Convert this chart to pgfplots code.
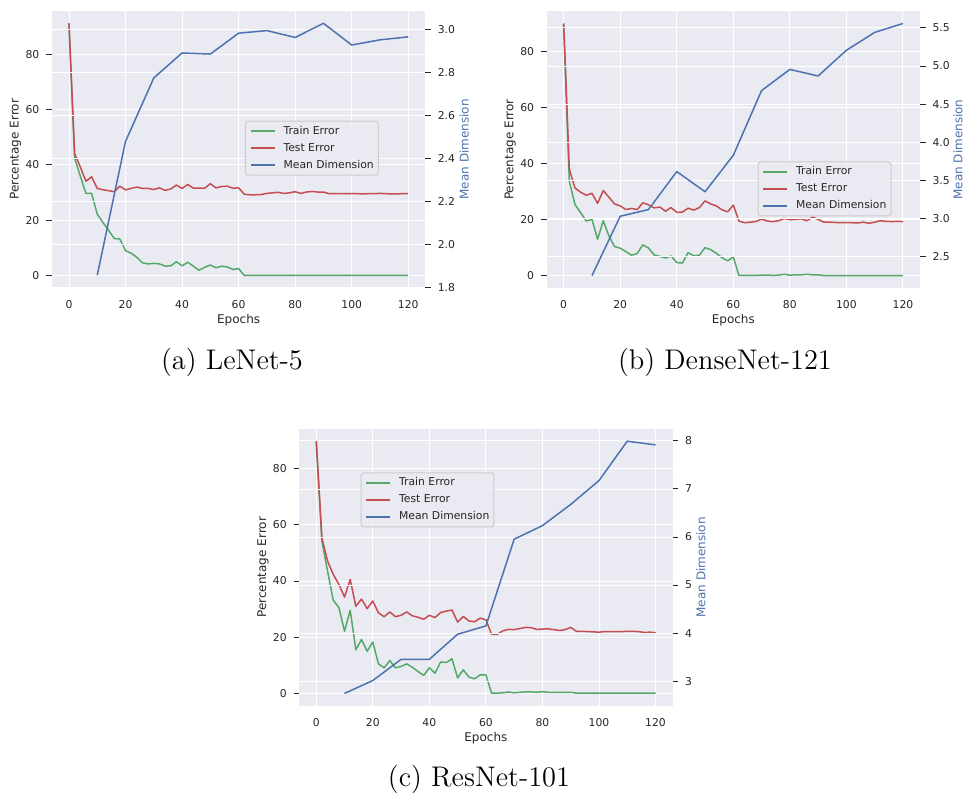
\documentclass[border=0pt]{standalone}
\usepackage{fontspec}
\usepackage{pgfplots}
\usepackage{pgfplotstable}
\pgfplotsset{compat=1.18}

\newfontfamily\dejavu{DejaVu Sans}
\definecolor{bgc}{HTML}{EAEAF2}
\definecolor{trainc}{HTML}{55A868}
\definecolor{testc}{HTML}{C44E52}
\definecolor{dimc}{HTML}{4C72B0}
\definecolor{txtc}{HTML}{262626}
\definecolor{legc}{HTML}{CCCCCC}
\newcommand\tickfont{\dejavu\fontsize{5.4}{6.5}\selectfont}
\newcommand\labfont{\dejavu\fontsize{6}{7}\selectfont}
\newcommand\capfont{\fontsize{14.2}{17}\selectfont}

% LeNet-5
\pgfplotstableread{
ep train test
0 91.0 91.3
2 42.5 44.1
4 36.0 39.3
6 29.7 34.1
8 29.7 35.7
10 22.2 31.5
12 19.2 31.0
14 16.4 30.7
16 13.4 30.3
18 13.2 32.3
20 9.0 31.0
22 8.1 31.5
24 6.6 32.0
26 4.6 31.5
28 4.2 31.5
30 4.4 31.1
32 4.2 31.7
34 3.4 30.8
36 3.5 31.3
38 5.0 32.7
40 3.5 31.5
42 4.8 32.9
44 3.4 31.6
46 1.9 31.6
48 3.0 31.6
50 3.8 33.2
52 2.8 31.7
54 3.4 32.2
56 3.1 32.3
58 2.2 31.6
60 2.5 31.7
62 0.05 29.4
64 0.05 29.2
66 0.05 29.2
68 0.05 29.3
70 0.05 29.7
72 0.05 29.9
74 0.05 30.1
76 0.05 29.7
78 0.05 29.9
80 0.05 30.3
82 0.05 29.7
84 0.05 30.2
86 0.05 30.4
88 0.05 30.2
90 0.05 30.2
92 0.05 29.6
94 0.05 29.6
96 0.05 29.6
98 0.05 29.6
100 0.05 29.6
102 0.05 29.6
104 0.05 29.5
106 0.05 29.6
108 0.05 29.6
110 0.05 29.7
112 0.05 29.6
114 0.05 29.5
116 0.05 29.5
118 0.05 29.6
120 0.05 29.6
}\lenet
\pgfplotstableread{
ep dim
10 1.858
20 2.480
30 2.775
40 2.891
50 2.886
60 2.983
70 2.995
80 2.963
90 3.029
100 2.928
110 2.952
120 2.966
}\lenetdim

% DenseNet-121
\pgfplotstableread{
ep train test
0 90.0 90.0
2 33.7 38.0
4 25.4 31.3
6 22.5 29.8
8 19.5 28.7
10 20.1 29.4
12 13.0 25.8
14 19.6 30.4
16 14.2 28.0
18 10.4 25.6
20 9.8 24.9
22 8.6 23.6
24 7.3 24.0
26 7.9 23.6
28 11.0 26.0
30 9.9 25.3
32 7.4 24.2
34 6.9 24.5
36 6.3 23.0
38 7.0 24.3
40 4.7 22.6
42 4.5 22.7
44 8.2 24.1
46 7.1 23.4
48 7.3 24.3
50 10.0 26.7
52 9.3 25.6
54 8.0 24.9
56 6.4 23.5
58 5.3 22.8
60 6.7 25.2
62 0.1 19.5
64 0.1 18.9
66 0.1 19.1
68 0.1 19.3
70 0.2 20.2
72 0.2 19.5
74 0.1 19.3
76 0.2 19.6
78 0.5 20.4
80 0.2 20.0
82 0.3 20.1
84 0.3 20.3
86 0.5 19.6
88 0.3 20.9
90 0.3 20.1
92 0.05 19.1
94 0.05 19.1
96 0.05 19.0
98 0.05 18.9
100 0.05 18.9
102 0.05 18.9
104 0.05 18.8
106 0.05 19.1
108 0.05 18.7
110 0.05 19.1
112 0.05 19.6
114 0.05 19.4
116 0.05 19.3
118 0.05 19.4
120 0.05 19.3
}\dense
\pgfplotstableread{
ep dim
10 2.253
20 3.032
30 3.119
40 3.617
50 3.353
60 3.830
70 4.678
80 4.955
90 4.869
100 5.206
110 5.440
120 5.557
}\densedim

% ResNet-101
\pgfplotstableread{
ep train test
0 89.8 89.8
2 54.2 55.3
4 43.5 47.1
6 33.2 42.4
8 30.6 38.8
10 22.1 34.3
12 29.6 40.6
14 15.5 31.0
16 19.2 33.6
18 15.0 30.2
20 18.3 32.9
22 10.5 28.7
24 9.1 27.3
26 11.7 29.0
28 9.1 27.3
30 9.6 27.8
32 10.5 29.0
34 9.3 27.6
36 7.8 27.1
38 6.4 26.4
40 9.1 27.8
42 7.2 27.0
44 11.2 28.8
46 11.0 29.3
48 12.3 29.7
50 5.5 25.4
52 8.4 27.4
54 5.8 25.8
56 5.2 25.5
58 6.6 26.8
60 6.6 26.2
62 0.1 21.1
64 0.1 21.0
66 0.2 22.3
68 0.5 22.8
70 0.2 22.7
72 0.4 23.1
74 0.5 23.5
76 0.5 23.4
78 0.4 22.8
80 0.6 22.9
82 0.4 23.0
84 0.4 22.7
86 0.4 22.4
88 0.4 22.7
90 0.4 23.5
92 0.1 22.1
94 0.1 22.1
96 0.1 22.0
98 0.1 21.9
100 0.1 21.8
102 0.1 22.0
104 0.1 22.0
106 0.1 22.0
108 0.1 22.0
110 0.1 22.1
112 0.1 22.1
114 0.1 22.0
116 0.1 21.7
118 0.1 21.8
120 0.1 21.6
}\resnet
\pgfplotstableread{
ep dim
10 2.746
20 3.014
30 3.455
40 3.455
50 3.977
60 4.150
70 5.955
80 6.237
90 6.678
100 7.174
110 7.994
120 7.917
}\resnetdim

\pgfplotsset{
  panel/.style={
    scale only axis, width=186.6pt, height=138.7pt,
    xmin=-6, xmax=126, xtick={0,20,...,120},
    tick align=outside, major tick length=2.8pt,
    every tick/.style={txtc, line width=0.5pt},
    xtick style={draw=none},
    ticklabel style={font=\tickfont, text=txtc},
    /pgf/number format/assume math mode=true,
    axis line style={draw=none},
    grid=major, grid style={white, line width=0.45pt},
    every axis plot/.append style={line width=0.75pt, line join=round, mark=none},
  },
  leftpanel/.style={
    panel,
    axis background/.style={fill=bgc},
    ytick pos=left, xtick pos=bottom,
    ytick={0,20,40,60,80},
    xlabel=Epochs, ylabel=Percentage Error,
    every axis x label/.style={at={(rel axis cs:0.5,-0.1154)}, anchor=center,
      font=\labfont, text=txtc},
    every axis y label/.style={at={(rel axis cs:-0.0975,0.5)}, rotate=90, anchor=center,
      font=\labfont, text=txtc},
  },
  rightpanel/.style={
    panel,
    axis x line=none,
    ytick pos=right, yticklabel pos=right,
    ylabel=Mean Dimension,
    legend cell align=left,
    legend image code/.code={\draw[##1, line width=0.75pt] (0pt,0pt) -- (12pt,0pt);},
    legend style={anchor=north west, fill=bgc, fill opacity=0.8, text opacity=1,
      draw=legc, line width=0.5pt, rounded corners=1.5pt, font=\tickfont, text=txtc,
      inner xsep=2.3pt, inner ysep=2.3pt, row sep=3.1pt, column sep=4pt,
      nodes={inner sep=0pt, text height=4.2pt, text depth=1.2pt}},
  },
  rlabel/.style={every axis y label/.style={at={(rel axis cs:#1,0.5)}, rotate=90,
      anchor=center, font=\labfont, text=dimc}},
  onedec/.style={yticklabel style={/pgf/number format/.cd, fixed, fixed zerofill, precision=1}},
}

\begin{document}
\begin{tikzpicture}
\useasboundingbox (0,0) rectangle (483pt,398pt);

% (a) LeNet-5
\begin{axis}[leftpanel, at={(26pt,254pt)}, anchor=south west, ymin=-4.5, ymax=95.8]
\addplot[trainc] table[x=ep, y=train] {\lenet};
\addplot[testc] table[x=ep, y=test] {\lenet};
\end{axis}
\begin{axis}[rightpanel, onedec, rlabel=1.1045, at={(26pt,254pt)}, anchor=south west,
  ymin=1.799, ymax=3.088, ytick={1.8,2,2.2,2.4,2.6,2.8,3},
  legend style={at={(0.517,0.603)}}]
\addlegendimage{trainc}
\addlegendentry{Train Error}
\addlegendimage{testc}
\addlegendentry{Test Error}
\addplot[dimc] table[x=ep, y=dim] {\lenetdim};
\addlegendentry{Mean Dimension}
\end{axis}

% (b) DenseNet-121
\begin{axis}[leftpanel, at={(273.35pt,253.85pt)}, anchor=south west, ymin=-4.5, ymax=94.5]
\addplot[trainc] table[x=ep, y=train] {\dense};
\addplot[testc] table[x=ep, y=test] {\dense};
\end{axis}
\begin{axis}[rightpanel, onedec, rlabel=1.102, at={(273.35pt,253.85pt)}, anchor=south west,
  ymin=2.088, ymax=5.722, ytick={2.5,3,3.5,4,4.5,5,5.5},
  legend style={at={(0.565,0.4572)}}]
\addlegendimage{trainc}
\addlegendentry{Train Error}
\addlegendimage{testc}
\addlegendentry{Test Error}
\addplot[dimc] table[x=ep, y=dim] {\densedim};
\addlegendentry{Mean Dimension}
\end{axis}

% (c) ResNet-101
\begin{axis}[leftpanel, at={(149.65pt,45pt)}, anchor=south west, ymin=-4.49, ymax=94.3]
\addplot[trainc] table[x=ep, y=train] {\resnet};
\addplot[testc] table[x=ep, y=test] {\resnet};
\end{axis}
\begin{axis}[rightpanel, rlabel=1.076, at={(149.65pt,45pt)}, anchor=south west,
  ymin=2.484, ymax=8.256, ytick={3,4,5,6,7,8},
  legend style={at={(0.164,0.842)}}]
\addlegendimage{trainc}
\addlegendentry{Train Error}
\addlegendimage{testc}
\addlegendentry{Test Error}
\addplot[dimc] table[x=ep, y=dim] {\resnetdim};
\addlegendentry{Mean Dimension}
\end{axis}

\node[font=\capfont, anchor=base] at (116pt,213pt) {(a) LeNet-5};
\node[font=\capfont, anchor=base] at (362.5pt,213pt) {(b) DenseNet-121};
\node[font=\capfont, anchor=base] at (239.5pt,4.5pt) {(c) ResNet-101};
\end{tikzpicture}
\end{document}
